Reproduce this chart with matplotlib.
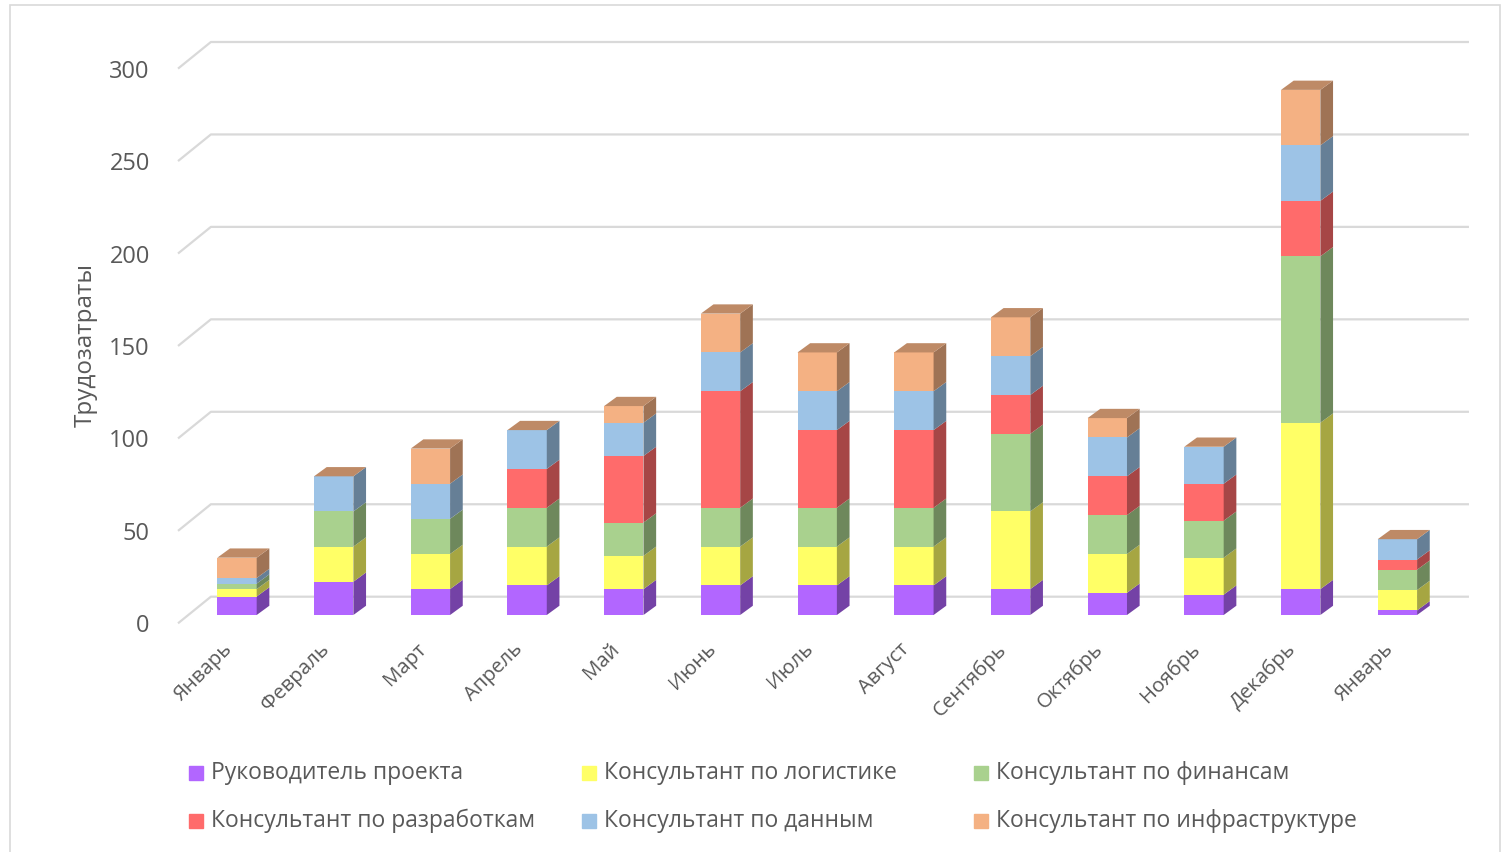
import numpy as np
import matplotlib
matplotlib.use("Agg")
import matplotlib.pyplot as plt
from matplotlib.patches import Rectangle
from matplotlib.colors import to_rgb

plt.rcParams['font.family'] = ['Open Sans', 'DejaVu Sans']

# Данные (оценка по картинке)
months = ['Январь', 'Февраль', 'Март', 'Апрель', 'Май', 'Июнь', 'Июль',
          'Август', 'Сентябрь', 'Октябрь', 'Ноябрь', 'Декабрь', 'Январь']

series_names = ['Руководитель проекта', 'Консультант по логистике',
                'Консультант по финансам', 'Консультант по разработкам',
                'Консультант по данным', 'Консультант по инфраструктуре']

rukovoditel = [10, 18, 14, 16, 14, 16, 16, 16, 14, 12, 11, 14, 2.5]
logistika = [4, 19, 19, 21, 18, 21, 21, 21, 42, 21, 20, 90, 11]
finansy = [3, 19, 19, 21, 18, 21, 21, 21, 42, 21, 20, 90, 11]
razrabotki = [0, 0, 0, 21, 36, 63, 42, 42, 21, 21, 20, 30, 5.5]
dannye = [3, 19, 19, 21, 18, 21, 21, 21, 21, 21, 20, 30, 11]
infra = [11, 0, 19, 0, 9, 21, 21, 21, 21, 10.5, 0, 30, 0]

y_ticks = [0, 50, 100, 150, 200, 250, 300]

colors = ['#B266FF', '#FFFF66', '#A9D18E', '#FF6B6B', '#9DC3E6', '#F4B183']
text_color = '#595959'
grid_color = '#D9D9D9'


def darker(c, k):
    r, g, b = to_rgb(c)
    return (r * k, g * k, b * k)


# Геометрия "3D" (в единицах данных)
W, H = 1507, 852
px_cat = 96.7      # пикселей на категорию
px_unit = 1.849    # пикселей на единицу
x0_px, y0_px = 237, 615
xlim = (-0.7, 12.8)
ylim = (-10, 320)
bar_w = 0.407
dx, dy = 0.131, 5.0            # глубина столбца
wall_dx, wall_dy = 0.34, 14.4  # глубина стенки
front_off = -4.5               # передний край пола относительно столбцов

fig = plt.figure(figsize=(W / 100, H / 100), dpi=100)
left = x0_px + xlim[0] * px_cat
right = x0_px + xlim[1] * px_cat
bottom_px = y0_px - ylim[0] * px_unit
top_px = y0_px - ylim[1] * px_unit
ax = fig.add_axes([left / W, 1 - bottom_px / H, (right - left) / W, (bottom_px - top_px) / H])
ax.set_xlim(*xlim)
ax.set_ylim(*ylim)
for s in ax.spines.values():
    s.set_visible(False)

# рамка диаграммы
fig.patches.append(Rectangle((10 / W, -0.01), 1490 / W, 1 - 5 / H + 0.01,
                             transform=fig.transFigure, fill=False,
                             edgecolor=grid_color, lw=1.2))

# линии сетки на задней стенке
x_front = -0.61
x_back = x_front + wall_dx
x_end = 12.74
for v in y_ticks:
    ax.plot([x_front, x_back, x_end], [v + front_off, v + front_off + wall_dy, v + front_off + wall_dy],
            color=grid_color, lw=1.6, zorder=1, solid_capstyle='butt')

# столбцы
x = np.arange(len(months))
data = [rukovoditel, logistika, finansy, razrabotki, dannye, infra]
bottom = np.zeros(len(months))
for vals, col in zip(data, colors):
    vals = np.array(vals, dtype=float)
    ax.bar(x, vals, width=bar_w, bottom=bottom, color=col, lw=0, zorder=3)
    side = darker(col, 0.65)
    for xi, b, v in zip(x, bottom, vals):
        if v > 0:
            r = xi + bar_w / 2
            ax.fill([r, r + dx, r + dx, r], [b, b + dy, b + v + dy, b + v],
                    color=side, lw=0, zorder=3)
    bottom += vals

top_col = darker(colors[-1], 0.78)
for xi, t in zip(x, bottom):
    l, r = xi - bar_w / 2, xi + bar_w / 2
    ax.fill([l, l + dx, r + dx, r], [t, t + dy, t + dy, t], color=top_col, lw=0, zorder=3)

# ось Y
ax.set_yticks([v + front_off for v in y_ticks])
ax.set_yticklabels([str(v) for v in y_ticks], fontsize=17, color=text_color)
ax.tick_params(axis='y', length=0, pad=14)
ax.set_xticks([])

fig.text(86 / W, 1 - 345 / H, 'Трудозатраты', rotation=90, ha='center', va='center',
         fontsize=17.5, color=text_color)

# подписи месяцев
for xi, m in zip(x, months):
    ax.text(xi - 0.15, -13, m, rotation=45, rotation_mode='anchor', ha='right', va='top',
            fontsize=14.7, color=text_color, clip_on=False)

# легенда
leg_x = [189, 582, 974]
leg_y = [773, 821]
for i, (name, col) in enumerate(zip(series_names, colors)):
    cx = leg_x[i % 3]
    cy = leg_y[i // 3]
    fig.patches.append(Rectangle((cx / W, 1 - (cy + 7) / H), 14 / W, 14 / H,
                                 transform=fig.transFigure, color=col))
    fig.text((cx + 22) / W, 1 - cy / H, name, ha='left', va='center',
             fontsize=16.5, color=text_color)

fig.savefig('out.png', dpi=100)
